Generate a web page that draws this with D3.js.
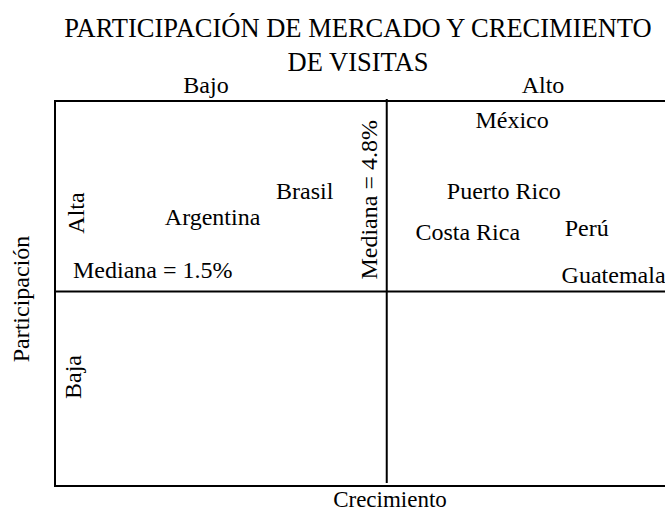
<!DOCTYPE html>
<html>
<head>
<meta charset="utf-8">
<script src="https://cdn.jsdelivr.net/npm/d3@7"></script>
<style>
  body { margin: 0; background: #fff; }
  text { font-family: "Liberation Serif", "Times New Roman", serif; fill: #000; }
</style>
</head>
<body>
<div class="canvas"></div>
<script>
const countries = ["México", "Puerto Rico", "Brasil", "Argentina", "Costa Rica", "Perú", "Guatemala"];
const growth = [7.37, 7.2, 3.12, 1.23, 6.46, 8.9, 9.45];
const share = [2.83, 2.28, 2.28, 2.08, 1.96, 1.99, 1.63];
const medianGrowth = 4.8;
const medianShare = 1.5;
const growthDomain = [-2, 12];
const shareDomain = [0, 2.97];
const titleLines = ["PARTICIPACIÓN DE MERCADO Y CRECIMIENTO", "DE VISITAS"];
const growthLabels = ["Bajo", "Alto"];
const shareLabels = ["Alta", "Baja"];

const WIDTH = 665,
  HEIGHT = 513,
  PLOT = { left: 55, right: 738, top: 101, bottom: 486 },
  FONT = 24;

let svg, x, y;

document.addEventListener("DOMContentLoaded", function () {
  setSVG();
  setScales();
  drawFrame();
  drawLabels();
  drawCountries();
});

function setSVG() {
  svg = d3
    .select(".canvas")
    .append("svg")
    .attr("width", WIDTH)
    .attr("height", HEIGHT);
}

function setScales() {
  x = d3.scaleLinear().domain(growthDomain).range([PLOT.left, PLOT.right]);
  y = d3.scaleLinear().domain(shareDomain).range([PLOT.bottom, PLOT.top]);
}

function drawFrame() {
  svg
    .append("rect")
    .attr("x", x(growthDomain[0]))
    .attr("y", y(shareDomain[1]))
    .attr("width", x(growthDomain[1]) - x(growthDomain[0]))
    .attr("height", y(shareDomain[0]) - y(shareDomain[1]))
    .attr("fill", "none")
    .attr("stroke", "#000")
    .attr("stroke-width", 2);

  // median lines
  svg
    .append("line")
    .attr("x1", x(growthDomain[0]))
    .attr("x2", x(growthDomain[1]))
    .attr("y1", y(medianShare))
    .attr("y2", y(medianShare))
    .attr("stroke", "#000")
    .attr("stroke-width", 2);

  svg
    .append("line")
    .attr("x1", x(medianGrowth))
    .attr("x2", x(medianGrowth))
    .attr("y1", y(shareDomain[1]) - 2)
    .attr("y2", y(shareDomain[0]) - 3)
    .attr("stroke", "#000")
    .attr("stroke-width", 2);
}

function drawLabels() {
  svg
    .append("g")
    .selectAll("text")
    .data(titleLines)
    .enter()
    .append("text")
    .attr("x", 358)
    .attr("y", (d, i) => 37 + i * 34)
    .attr("text-anchor", "middle")
    .attr("font-size", 26.5)
    .text((d) => d);

  svg
    .append("g")
    .selectAll("text")
    .data(growthLabels)
    .enter()
    .append("text")
    .attr("x", (d, i) => [206, 543][i])
    .attr("y", 93)
    .attr("text-anchor", "middle")
    .attr("font-size", FONT)
    .text((d) => d);

  svg
    .append("g")
    .selectAll("text")
    .data(shareLabels)
    .enter()
    .append("text")
    .attr("transform", (d, i) => `translate(${[84, 81][i]}, ${[213, 377][i]}) rotate(-90)`)
    .attr("text-anchor", "middle")
    .attr("font-size", FONT)
    .text((d) => d);

  svg
    .append("text")
    .attr("transform", `translate(29, 299) rotate(-90)`)
    .attr("text-anchor", "middle")
    .attr("font-size", FONT)
    .text("Participación");

  svg
    .append("text")
    .attr("x", 390)
    .attr("y", 507)
    .attr("text-anchor", "middle")
    .attr("font-size", 23)
    .text("Crecimiento");

  svg
    .append("text")
    .attr("x", x(growthDomain[0]) + 18)
    .attr("y", y(medianShare) - 14)
    .attr("font-size", FONT)
    .text(`Mediana = ${medianShare}%`);

  svg
    .append("text")
    .attr("transform", `translate(${x(medianGrowth) - 10}, ${y(medianShare) - 12}) rotate(-90)`)
    .attr("font-size", FONT)
    .text(`Mediana = ${medianGrowth}%`);
}

function drawCountries() {
  svg
    .append("g")
    .selectAll("text")
    .data(countries)
    .enter()
    .append("text")
    .attr("x", (d, i) => x(growth[i]))
    .attr("y", (d, i) => y(share[i]))
    .attr("dy", "0.35em")
    .attr("text-anchor", "middle")
    .attr("font-size", FONT)
    .text((d) => d);
}
</script>
</body>
</html>
